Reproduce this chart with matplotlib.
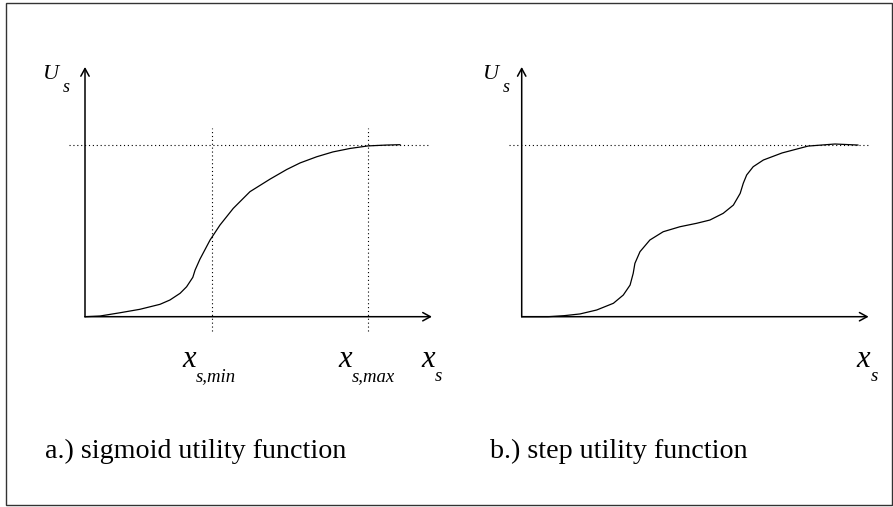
import matplotlib
matplotlib.use("Agg")
from matplotlib import pyplot as plt
from matplotlib.patches import Rectangle

plt.rcParams["font.family"] = ["Liberation Serif", "DejaVu Serif"]

# curves (x in units of x_s,max, U in units of saturation)
x_sig = [0, 0.053, 0.124, 0.194, 0.265, 0.300, 0.336, 0.359, 0.381, 0.389,
         0.406, 0.442, 0.477, 0.524, 0.583, 0.654, 0.713, 0.760, 0.819,
         0.876, 0.936, 1.0, 1.066, 1.113]
u_sig = [0, 0.004, 0.023, 0.043, 0.072, 0.097, 0.136, 0.174, 0.229, 0.271,
         0.334, 0.446, 0.533, 0.630, 0.727, 0.800, 0.856, 0.894, 0.930,
         0.958, 0.978, 0.993, 0.998, 1.0]

x_step = [0, 0.093, 0.150, 0.206, 0.265, 0.324, 0.359, 0.383, 0.394, 0.400,
          0.418, 0.453, 0.500, 0.559, 0.618, 0.665, 0.712, 0.748, 0.772,
          0.783, 0.795, 0.818, 0.854, 0.920, 1.012, 1.107, 1.188]
u_step = [0, 0.0, 0.006, 0.016, 0.039, 0.078, 0.126, 0.184, 0.252, 0.310,
          0.378, 0.446, 0.494, 0.523, 0.543, 0.562, 0.601, 0.649, 0.717,
          0.776, 0.824, 0.872, 0.911, 0.952, 0.992, 1.004, 0.998]

u_sat = 1.0
x_min = 0.447
x_max = 1.0

W, H = 893, 507
PX = 0.72  # points per pixel at dpi 100
fig = plt.figure(figsize=(W / 100, H / 100), dpi=100)

# outer frame
fig.add_artist(Rectangle((6 / W, 2 / H), 886 / W, 502 / H, transform=fig.transFigure,
                         fill=False, edgecolor="#333333", linewidth=1.0))


def sym(ax, x, y, main, sub, size, subsize, dx, dy):
    # italic symbol with a subscript, dx/dy = pixel offset of the subscript
    ax.text(x, y, main, fontsize=size, style="italic", va="baseline", ha="left")
    ax.annotate(sub, xy=(x, y), xytext=(dx * PX, -dy * PX), textcoords="offset points",
                fontsize=subsize, style="italic", va="baseline", ha="left",
                annotation_clip=False)


def panel(left_px, origin_px):
    top, bottom = 30, 490
    ax = fig.add_axes([left_px / W, (H - bottom) / H, 415 / W, (bottom - top) / H])
    ax.set_xlim((left_px - origin_px) / 283, (left_px + 415 - origin_px) / 283)
    ax.set_ylim((316.7 - bottom) / 172, (316.7 - top) / 172)
    ax.axis("off")
    ax.patch.set_alpha(0)
    arrow = dict(arrowstyle="->,head_length=0.55,head_width=0.3", lw=1.1,
                 color="black", shrinkA=0, shrinkB=0)
    ax.annotate("", xy=(1.226, 0), xytext=(0, 0), arrowprops=arrow, annotation_clip=False)
    ax.annotate("", xy=(0, 1.452), xytext=(0, 0), arrowprops=arrow, annotation_clip=False)
    return ax


dots = (0, (1, 2.5))

ax1 = panel(30, 85)
ax1.plot([-0.057, 1.212], [u_sat, u_sat], color="black", lw=0.8, linestyle=dots)
ax1.plot([x_min, x_min], [-0.083, 1.097], color="black", lw=0.8, linestyle=dots)
ax1.plot([x_max, x_max], [-0.083, 1.097], color="black", lw=0.8, linestyle=dots)
ax1.plot(x_sig, u_sig, color="black", lw=0.9)
sym(ax1, -0.148, 1.382, "U", "s", 16, 13, 20, 13)
sym(ax1, 0.343, -0.293, "x", "s,min", 22, 13.5, 14, 14)
sym(ax1, 0.894, -0.293, "x", "s,max", 22, 13.5, 14, 14)
sym(ax1, 1.187, -0.293, "x", "s", 22, 13.5, 14, 14)
ax1.text(-0.141, -0.822, "a.) sigmoid utility function", fontsize=20.2, va="baseline", ha="left")

ax2 = panel(465, 521.7)
ax2.plot([-0.045, 1.224], [u_sat, u_sat], color="black", lw=0.8, linestyle=dots)
ax2.plot(x_step, u_step, color="black", lw=0.9)
sym(ax2, -0.137, 1.382, "U", "s", 16, 13, 20, 13)
sym(ax2, 1.184, -0.293, "x", "s", 22, 13.5, 14, 14)
ax2.text(-0.112, -0.822, "b.) step utility function", fontsize=20.2, va="baseline", ha="left")

fig.savefig("out.png", dpi=100)
